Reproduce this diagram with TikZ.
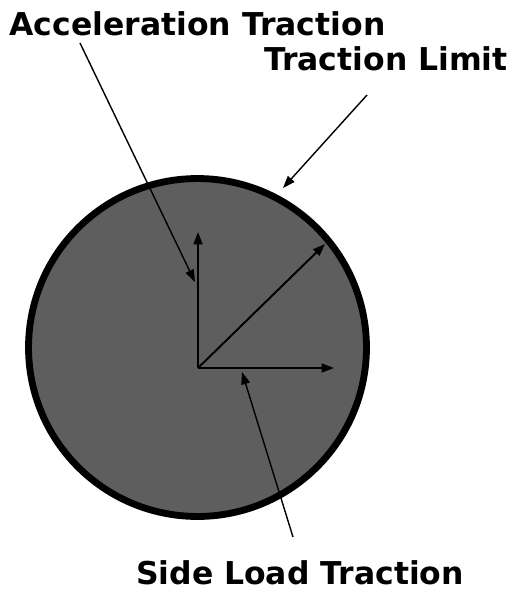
\documentclass[tikz,border=0pt]{standalone}
\usepackage{fontspec}
\setmainfont{DejaVu Sans}
\usepackage{tikz}
\usetikzlibrary{arrows.meta,positioning,calc}
\definecolor{tyre}{HTML}{5E5E5E}

\tikzset{
  tagtext/.style={font=\bfseries\fontsize{17.9}{20}\selectfont, anchor=base, inner sep=0pt},
  vec/.style={line width=1.1pt, -{Triangle[length=7pt,width=5pt]}},
  lead/.style={line width=0.8pt, -{Triangle[length=7pt,width=5pt]}}
}

\begin{document}
\begin{tikzpicture}[x=0.02cm, y=-0.02cm]
  \useasboundingbox (0,0) rectangle (510,589);
  \node[circle, draw, line width=3.9pt, fill=tyre, minimum size=6.76cm, inner sep=0pt] (limit) at (197.5,347.5) {};
  \node[tagtext] (accel) at (197.5,35) {Acceleration Traction};
  \node[tagtext] (tlimit) at (386,70) {Traction Limit};
  \node[tagtext] (side) at (300,584) {Side Load Traction};

  \coordinate (o) at (198,368);
  \draw[vec] (o) -- (198,232);
  \draw[vec] (o) -- (334,368);
  \draw[vec] (o) -- (325,244);

  \coordinate (a0) at (80,43);
  \coordinate (a1) at (195,282);
  \coordinate (t0) at (367,95);
  \coordinate (t1) at (283,188);
  \coordinate (s0) at (293,537);
  \coordinate (s1) at (242,372);
  \draw[lead] (a0) -- (a1);
  \draw[lead] (t0) -- (t1);
  \draw[lead] (s0) -- (s1);
\end{tikzpicture}
\end{document}
